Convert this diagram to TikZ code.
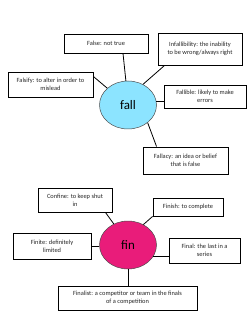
\documentclass[tikz,border=0pt]{standalone}
\usepackage{fontspec}
\setmainfont{Carlito}
\usetikzlibrary{shapes.geometric}
\definecolor{fallcyan}{RGB}{140,228,255}
\definecolor{finpink}{RGB}{233,28,122}
\begin{document}
\begin{tikzpicture}[
        x=1pt, y=-1pt,
        box/.style={
            rectangle,
            draw=black,
            line width=0.9pt,
            inner sep=1pt,
            align=center,
            fill=white,
            text=black!85,
            font=\fontsize{6.4}{7.8}\selectfont
        },
        hub/.style={
            ellipse,
            draw=black!70,
            line width=0.5pt,
            minimum width=57pt,
            minimum height=48pt,
            inner sep=0pt,
            font=\fontsize{13}{14}\selectfont
        },
        link/.style={
            line width=0.8pt,
            draw=black
        }
    ]

    \useasboundingbox (0, 0) rectangle (248, 320);
    \fill[white] (0, 0) rectangle (248, 320);

    % fall
    \node[hub, fill=fallcyan] (fall) at (128, 105) {fall};

    \node[box, minimum width=84pt, minimum height=19pt] (false)   at (106, 43.5)  {False: not true};
    \node[box, minimum width=84pt, minimum height=32pt] (infall)  at (200, 49)    {Infallibility: the inability\\to be wrong/always right};
    \node[box, minimum width=85pt, minimum height=25pt] (falsify) at (50.5, 84.5) {Falsify: to alter in order to\\mislead};
    \node[box, minimum width=82pt, minimum height=23pt] (fallible) at (205, 96.5) {Fallible: likely to make\\errors};
    \node[box, minimum width=85pt, minimum height=27pt] (fallacy) at (185.5, 160.5) {Fallacy: an idea or belief\\that is false};

    \draw[link] ([xshift=17pt]false.south) -- (fall.95);
    \draw[link] ([xshift=7pt]infall.south west) -- (fall.54);
    \draw[link] ([yshift=-5pt]falsify.north east) -- (fall.141);
    \draw[link] (fall.8) -- (fall.8 -| fallible.west);
    \draw[link] (fall.-42) -- ([xshift=14pt]fallacy.north west);

    % fin
    \node[hub, fill=finpink] (fin) at (128, 245) {fin};

    \node[box, minimum width=74pt, minimum height=24pt] (confine)  at (75, 200)    {Confine: to keep shut\\in};
    \node[box, minimum width=70pt, minimum height=18pt] (finish)   at (188, 207)   {Finish: to complete};
    \node[box, minimum width=78pt, minimum height=26pt] (finite)   at (52, 246)    {Finite: definitely\\limited};
    \node[box, minimum width=71pt, minimum height=25pt] (final)    at (204.5, 250.5) {Final: the last in a\\series};
    \node[box, minimum width=139pt, minimum height=24pt] (finalist) at (127.5, 298) {Finalist: a competitor or team in the finals\\of a competition};

    \draw[link] ([xshift=-7pt]confine.south east) -- (fin.124);
    \draw[link] (finish.south west) -- (fin.53);
    \draw[link] (finite.east) -- (finite.east -| fin.west);
    \draw[link] (fin.-25) -- (fin.-25 -| final.west);
    \draw[link] (fin.south) -- (fin.south |- finalist.north);

\end{tikzpicture}
\end{document}
